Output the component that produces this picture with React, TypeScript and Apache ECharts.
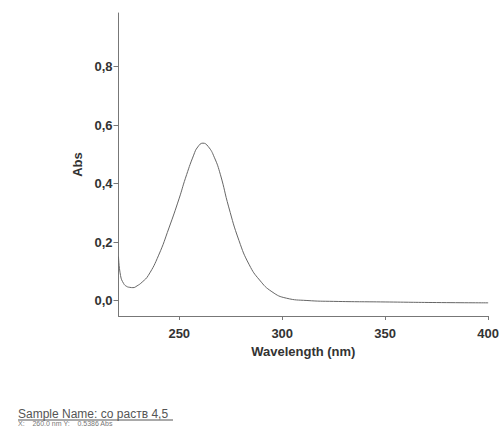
import React, { useEffect, useRef } from "react";
import * as echarts from "echarts";

const wavelengths = [220.5, 221.5, 223, 224.5, 226, 227.5, 229.5, 232, 235, 240, 245, 250, 253, 257, 259, 261.5, 264, 267, 270, 274, 279, 284, 289, 295, 302, 312, 325, 350, 375, 400];
const absorbance = [0.15, 0.085, 0.058, 0.048, 0.045, 0.044, 0.05, 0.063, 0.086, 0.155, 0.248, 0.35, 0.418, 0.497, 0.525, 0.538, 0.527, 0.49, 0.43, 0.32, 0.205, 0.122, 0.07, 0.03, 0.008, 0.0, -0.003, -0.005, -0.007, -0.008];
const xTicks = [250, 300, 350, 400];
const yTicks = [0, 0.2, 0.4, 0.6, 0.8];
const sampleName = "Sample Name: со раств 4,5";
const peakLine = "X:    260.0 nm Y:    0.5386 Abs";

export default function App() {
  const ref = useRef<HTMLDivElement>(null);
  useEffect(() => {
    if (!ref.current) return;
    const chart = echarts.init(ref.current, null, { renderer: "svg" });
    const labelStyle = { color: "#333", fontWeight: "bold" as const, fontSize: 13, fontFamily: "Liberation Sans, Arial, sans-serif" };
    chart.setOption({
      animation: false,
      backgroundColor: "#fff",
      grid: { left: 118.5, right: 12, top: 13, bottom: 111 },
      xAxis: {
        type: "value",
        min: 220.5,
        max: 400,
        name: "Wavelength (nm)",
        nameLocation: "middle",
        nameGap: 24,
        nameTextStyle: labelStyle,
        axisLine: { onZero: false, lineStyle: { color: "#777", width: 1 } },
        axisTick: { show: true, length: 4, customValues: xTicks, lineStyle: { color: "#777" } },
        axisLabel: { ...labelStyle, margin: 11, customValues: xTicks, formatter: (v: number) => String(Math.round(v)) },
        splitLine: { show: false },
      },
      yAxis: {
        type: "value",
        min: -0.053,
        max: 0.983,
        name: "Abs",
        nameLocation: "middle",
        nameGap: 35,
        nameTextStyle: labelStyle,
        axisLine: { show: true, onZero: false, lineStyle: { color: "#777", width: 1 } },
        axisTick: { show: true, length: 5, customValues: yTicks, lineStyle: { color: "#777" } },
        axisLabel: { ...labelStyle, margin: 6, customValues: yTicks, formatter: (v: number) => v.toFixed(1).replace(".", ",") },
        splitLine: { show: false },
      },
      series: [
        {
          type: "line",
          data: wavelengths.map((w, i) => [w, absorbance[i]]),
          smooth: 0.5,
          showSymbol: false,
          lineStyle: { color: "#666", width: 1 },
        },
      ],
      graphic: [
        {
          type: "text",
          left: 18,
          top: 408,
          style: { text: sampleName, fill: "#555", fontSize: 12, fontFamily: "Liberation Sans, Arial, sans-serif" },
        },
        {
          type: "line",
          shape: { x1: 18, y1: 420, x2: 173, y2: 420 },
          style: { stroke: "#555", lineWidth: 1 },
        },
        {
          type: "text",
          left: 18,
          top: 420,
          style: { text: peakLine, fill: "#777", fontSize: 7, fontFamily: "Liberation Sans, Arial, sans-serif" },
        },
      ],
    });
    return () => chart.dispose();
  }, []);
  return <div ref={ref} style={{ position: "absolute", left: 0, top: 0, width: 502, height: 427 }} />;
}
